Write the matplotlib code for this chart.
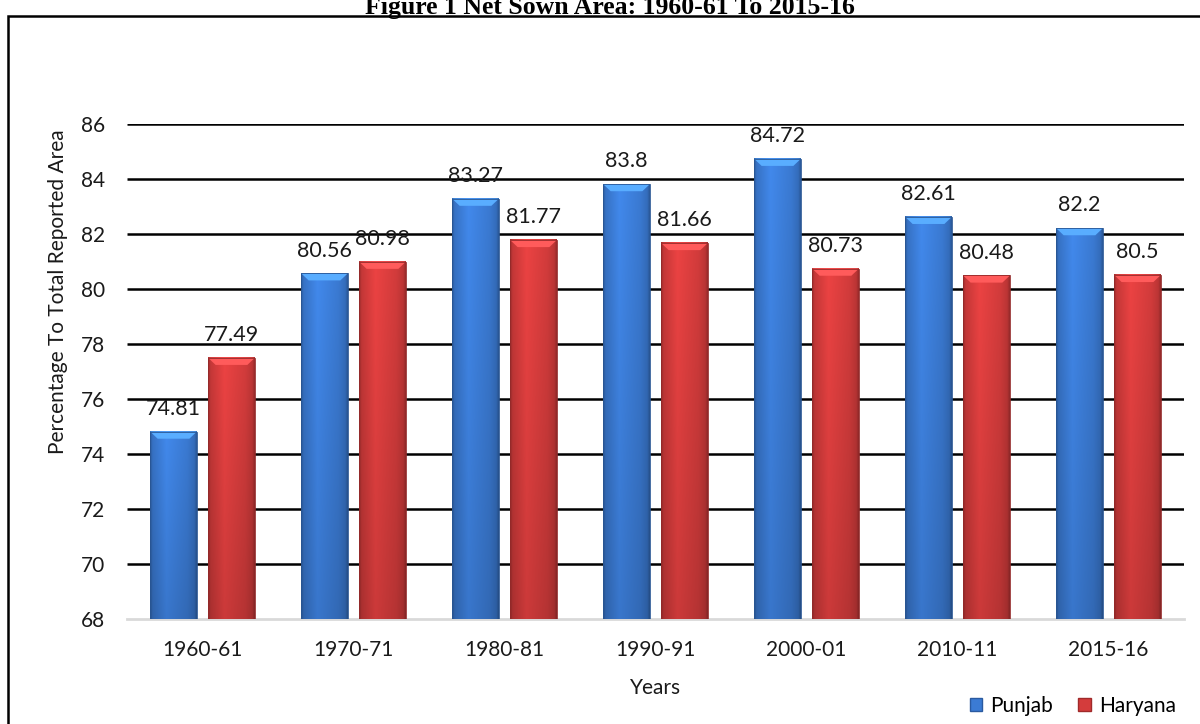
import numpy as np
import matplotlib.pyplot as plt
from matplotlib.patches import Rectangle, Polygon, Patch
from matplotlib.colors import to_rgb

years = ['1960-61', '1970-71', '1980-81', '1990-91', '2000-01', '2010-11', '2015-16']
punjab = [74.81, 80.56, 83.27, 83.8, 84.72, 82.61, 82.2]
haryana = [77.49, 80.98, 81.77, 81.66, 80.73, 80.48, 80.5]
y_ticks = [68, 70, 72, 74, 76, 78, 80, 82, 84, 86]

BLUE = '#3b7bd4'
RED = '#d43c3c'

plt.rcParams['font.family'] = ['Lato', 'DejaVu Sans']


def shaded_bar(ax, xc, width, top, base, color):
    # fake the excel "3d" bevelled bar: horizontal shading + light top face
    rgb = np.array(to_rgb(color))
    t = np.linspace(0, 1, 64)
    shade_h = np.interp(t, [0, 0.05, 0.35, 0.8, 0.95, 1], [0.72, 0.9, 1.08, 0.96, 0.86, 0.7])
    v = np.linspace(0, 1, 32)
    shade_v = 1.03 - 0.14 * v
    img = np.clip(rgb[None, None, :] * shade_h[None, :, None] * shade_v[:, None, None], 0, 1)
    x0, x1 = xc - width / 2, xc + width / 2
    ax.imshow(img, extent=(x0, x1, base, top), aspect='auto', origin='upper',
              interpolation='bilinear', zorder=3)
    d, h = 0.05, 0.26
    light = np.clip(rgb * 1.3 + 0.05, 0, 1)
    ax.add_patch(Polygon([(x0, top), (x1, top), (x1 - d, top - h), (x0 + d, top - h)],
                         closed=True, fc=light, ec='none', zorder=4))
    ax.add_patch(Rectangle((x0, base), width, top - base, fill=False,
                           ec=rgb * 0.7, lw=0.6, zorder=5))


fig = plt.figure(figsize=(12, 7.24), dpi=100)
ax = fig.add_axes([127 / 1200, 1 - 619 / 724, 1057 / 1200, 495.5 / 724])

x = np.arange(len(years))
width = 0.31
off = 0.192

for i in range(len(years)):
    shaded_bar(ax, x[i] - off, width, punjab[i], y_ticks[0], BLUE)
    shaded_bar(ax, x[i] + off, width, haryana[i], y_ticks[0], RED)
    for xc, val in ((x[i] - off, punjab[i]), (x[i] + off, haryana[i])):
        ax.annotate(f'{val:g}', (xc, val), xytext=(0, 12), textcoords='offset points',
                    ha='center', va='baseline', fontsize=15.5, color='#1a1a1a', zorder=6)

ax.hlines(y_ticks[1:], 0, 1, transform=ax.get_yaxis_transform(), color='black', lw=1.8, zorder=1)
ax.set_xlim(-0.5, len(years) - 0.5)
ax.set_ylim(y_ticks[0], y_ticks[-1])
ax.set_yticks(y_ticks)
ax.set_xticks(x)
ax.set_xticklabels(years)
ax.tick_params(length=0, labelsize=15, colors='#1a1a1a')
ax.tick_params(axis='y', pad=16)
ax.tick_params(axis='x', pad=15)
for s in ('left', 'right', 'top'):
    ax.spines[s].set_visible(False)
ax.spines['bottom'].set_color('#d9d9d9')
ax.spines['bottom'].set_linewidth(2)

ax.set_ylabel('Percentage To Total Reported Area', fontsize=15, color='#1a1a1a')
ax.yaxis.set_label_coords(-0.065, 0.66)
ax.set_xlabel('Years', fontsize=15, color='#1a1a1a')
ax.xaxis.set_label_coords(0.5, -0.139)
ax.xaxis.label.set_va('center')
ax.yaxis.label.set_va('center')

handles = [Patch(fc=BLUE, ec='#2a5aa0'), Patch(fc=RED, ec='#a02a2a')]
fig.legend(handles, ['Punjab', 'Haryana'], loc='center right', ncol=2, frameon=False,
           bbox_to_anchor=(1176 / 1200, 1 - 706 / 724), fontsize=15,
           handlelength=0.6, handleheight=0.6, handletextpad=0.4, columnspacing=1.2,
           borderaxespad=0, borderpad=0)

fig.text(0.508, 1 - 14 / 724, 'Figure 1 Net Sown Area: 1960-61 To 2015-16', ha='center',
         va='baseline', fontfamily='Liberation Serif', fontweight='bold', fontsize=18.5)
fig.add_artist(Rectangle((8 / 1200, -0.05), 1.1, 1.05 - 16 / 724, transform=fig.transFigure,
                         fill=False, ec='black', lw=1.8))

fig.savefig('out.png', dpi=100)
